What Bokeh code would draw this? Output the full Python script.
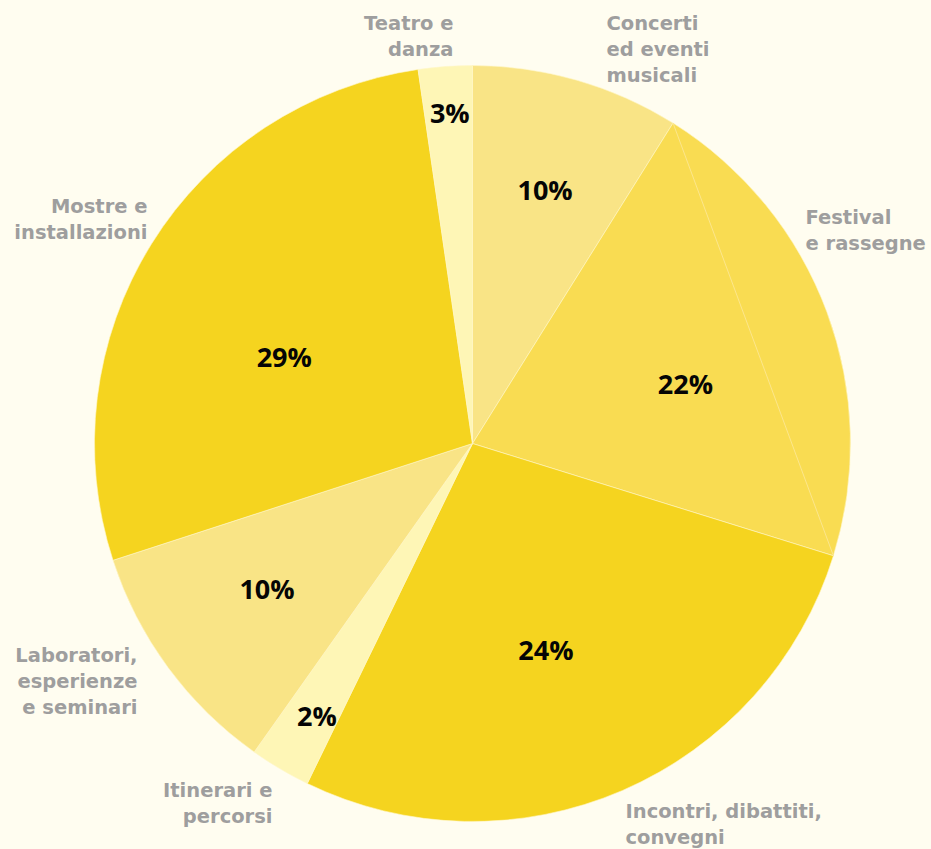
import numpy as np
from bokeh.plotting import figure
from bokeh.models import Range1d, ColumnDataSource
from bokeh.core.properties import value
from bokeh.embed import file_html
from bokeh.resources import INLINE

# ---------------- data ----------------
categories = [
    "Concerti ed eventi musicali",
    "Festival e rassegne",
    "Incontri, dibattiti, convegni",
    "Itinerari e percorsi",
    "Laboratori, esperienze e seminari",
    "Mostre e installazioni",
    "Teatro e danza",
]
label_lines = [
    ["Concerti", "ed eventi", "musicali"],
    ["Festival", "e rassegne"],
    ["Incontri, dibattiti,", "convegni"],
    ["Itinerari e", "percorsi"],
    ["Laboratori,", "esperienze", "e seminari"],
    ["Mostre e", "installazioni"],
    ["Teatro e", "danza"],
]
# slice shares as drawn
shares = [8.9, 20.9, 27.4, 2.6, 10.2, 27.7, 2.3]
# percentage texts as printed on the chart
pct_labels = ["10%", "22%", "24%", "2%", "10%", "29%", "3%"]
colors = ["#F9E486", "#F9DC52", "#F5D41F", "#FEF6B6", "#F9E486", "#F5D41F", "#FEF6B6"]

# ---------------- layout / style ----------------
BG = "#FFFDF0"
W, H = 931, 849
CX, CY = 472, H - 443
R = 378
PCT_R = [263, 221, 220, 314, 252, 207, 331]
PCT_DANG = [0.0, 4.8, 3.9, -0.9, 1.0, -7.3, 0.2]
PCT_RAISE = 1.0      # baseline lift relative to label centre (renderer correction)
OUT_RAISE = 7.5
# outer labels: (align, x, first baseline, in picture px from top-left)
OUT_ANCHOR = [
    ("left", 606, 30),
    ("left", 805, 224),
    ("left", 625, 818),
    ("right", 272, 797),
    ("right", 137, 662.5),
    ("right", 147, 213.5),
    ("right", 453, 30),
]
LINE_STEP = 26

p = figure(width=W, height=H, output_backend="svg", toolbar_location=None,
           x_range=Range1d(0, W), y_range=Range1d(0, H),
           min_border=0, background_fill_color=BG, border_fill_color=BG)
p.axis.visible = False
p.grid.visible = False
p.outline_line_color = None

total = float(sum(shares))
edges = np.concatenate([[0.0], np.cumsum(shares)]) / total * 2 * np.pi  # clockwise from north
src = ColumnDataSource(dict(
    start=list(np.pi / 2 - edges[1:]),
    end=list(np.pi / 2 - edges[:-1]),
    color=colors,
    name=categories,
))
p.wedge(x=CX, y=CY, radius=R, start_angle="start", end_angle="end",
        fill_color="color", line_color="#FFF6C8", line_width=0.6, source=src)

# faint chord inside the festival slice
t1, t2 = edges[1], edges[2]
p.segment(x0=[CX + R * np.sin(t1)], y0=[CY + R * np.cos(t1)],
          x1=[CX + R * np.sin(t2)], y1=[CY + R * np.cos(t2)],
          line_color="#FCE68C", line_width=1)

# percentage labels
mid = (edges[:-1] + edges[1:]) / 2 + np.radians(PCT_DANG)
px = [CX + r * np.sin(a) for r, a in zip(PCT_R, mid)]
py = [CY + r * np.cos(a) + PCT_RAISE for r, a in zip(PCT_R, mid)]
p.text(x=px, y=py, text=pct_labels, text_align="center", text_baseline="alphabetic",
       text_font=value("Open Sans"), text_font_style="bold", text_font_size="27px",
       text_color="#050505")

# outer category labels
for lines, (align, ax, by) in zip(label_lines, OUT_ANCHOR):
    ys = [H - (by + i * LINE_STEP) + OUT_RAISE for i in range(len(lines))]
    p.text(x=[ax] * len(lines), y=ys, text=lines, text_align=align,
           text_baseline="alphabetic", text_font=value("DejaVu Sans"),
           text_font_style="bold", text_font_size="19.5px", text_color="#9E9E9E")

html = file_html(p, INLINE)
html = html.replace("<head>", "<head><style>html,body{background:%s;}</style>" % BG, 1)
open("out.html", "w").write(html)
